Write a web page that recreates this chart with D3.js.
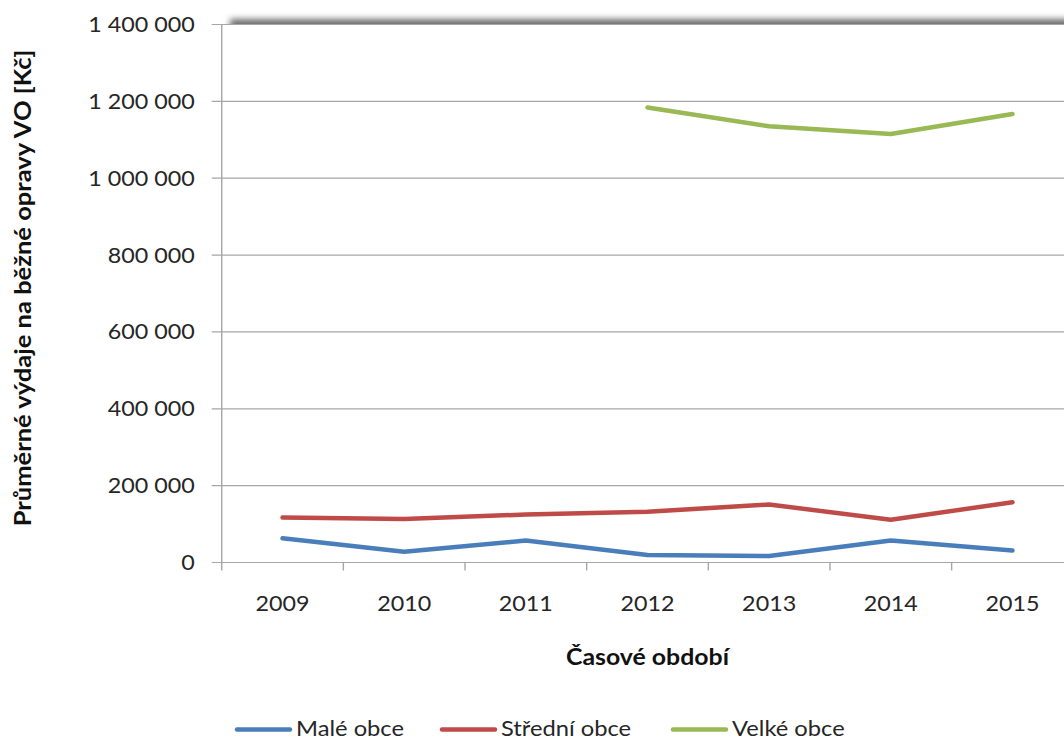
<!DOCTYPE html>
<html>
<head>
<meta charset="utf-8">
<script src="https://cdn.jsdelivr.net/npm/d3@7"></script>
<style>
  html, body { margin: 0; padding: 0; background: #fff; }
  svg { display: block; font-family: Lato, "Open Sans", sans-serif; }
</style>
</head>
<body>
<svg id="chart" width="1064" height="740"></svg>
<script>
// Průměrné výdaje na běžné opravy veřejného osvětlení podle velikosti obce
const years = ["2009", "2010", "2011", "2012", "2013", "2014", "2015"];
const maleObce    = [63000, 28000, 57000, 19500, 17000, 57000, 31000];
const stredniObce = [117000, 113000, 125000, 132000, 151000, 111000, 157000];
const velkeObce   = [null, null, null, 1184000, 1135000, 1115000, 1167000];
const seriesNames = ["Malé obce", "Střední obce", "Velké obce"];
const yTicks = [0, 200000, 400000, 600000, 800000, 1000000, 1200000, 1400000];

const colors = ["#4A7EBB", "#BE4B48", "#98B954"];
const series = [maleObce, stredniObce, velkeObce];

// horizontal widening applied to text
const WIDEN = 1.13;     // titles and legend
const WIDEN_NUM = 1.06; // numeric tick labels

const svg = d3.select("#chart");
const plot = { left: 221.7, right: 1073.3, top: 24.5, bottom: 562.5 };

const x = d3.scaleBand().domain(years).range([plot.left, plot.right]);
const y = d3.scaleLinear().domain([0, 1400000]).range([plot.bottom, plot.top]);

const czLocale = d3.formatLocale({ decimal: ",", thousands: "\u00a0", grouping: [3], currency: ["", " Kč"] });
const fmt = czLocale.format(",d");

// shadow along the top edge of the plot
const defs = svg.append("defs");
defs.append("filter").attr("id", "soft").attr("x", "-10%").attr("y", "-200%").attr("width", "120%").attr("height", "500%")
  .append("feGaussianBlur").attr("stdDeviation", 3);
defs.append("clipPath").attr("id", "aboveTop")
  .append("rect").attr("x", 0).attr("y", 0).attr("width", 1064).attr("height", plot.top);
svg.append("g").attr("clip-path", "url(#aboveTop)")
  .append("rect")
  .attr("x", 230).attr("y", 19).attr("width", 900).attr("height", 14)
  .attr("fill", "#6e6e6e").attr("filter", "url(#soft)");

// horizontal gridlines with short outer ticks
svg.append("g").selectAll("line").data(yTicks).join("line")
  .attr("x1", plot.left - 10).attr("x2", plot.right)
  .attr("y1", d => y(d)).attr("y2", d => y(d))
  .attr("stroke", "#a6a6a6").attr("stroke-width", 1.2);

// y axis labels
const yAxis = svg.append("g")
  .attr("transform", `translate(${plot.left},0)`)
  .call(d3.axisLeft(y).tickValues(yTicks).tickFormat(fmt).tickSize(0).tickPadding(27));
yAxis.select(".domain").remove();
yAxis.selectAll("text")
  .attr("x", -27 / WIDEN_NUM)
  .attr("transform", `scale(${WIDEN_NUM},1)`)
  .attr("font-size", 22).attr("fill", "#262626")
  .attr("font-family", "Lato, sans-serif");

// y axis line
svg.append("line")
  .attr("x1", plot.left).attr("x2", plot.left)
  .attr("y1", plot.top).attr("y2", plot.bottom + 8)
  .attr("stroke", "#a6a6a6").attr("stroke-width", 1.4);

// x axis category boundary ticks
svg.append("g").selectAll("line").data(years.slice(1)).join("line")
  .attr("x1", d => x(d)).attr("x2", d => x(d))
  .attr("y1", plot.bottom).attr("y2", plot.bottom + 8)
  .attr("stroke", "#a6a6a6").attr("stroke-width", 1.4);

// x axis labels
const xAxis = svg.append("g")
  .attr("transform", `translate(0,${plot.bottom})`)
  .call(d3.axisBottom(x).tickSize(0).tickPadding(33));
xAxis.select(".domain").remove();
xAxis.selectAll("text")
  .attr("transform", `scale(${WIDEN_NUM},1)`)
  .attr("font-size", 22).attr("fill", "#262626")
  .attr("font-family", "Lato, sans-serif");

// series lines
const line = d3.line()
  .defined(d => d.v !== null)
  .x(d => x(d.year) + x.bandwidth() / 2)
  .y(d => y(d.v));

series.forEach((vals, i) => {
  svg.append("path")
    .datum(years.map((yr, j) => ({ year: yr, v: vals[j] })))
    .attr("d", line)
    .attr("fill", "none")
    .attr("stroke", colors[i])
    .attr("stroke-width", 4.5)
    .attr("stroke-linejoin", "round")
    .attr("stroke-linecap", "round");
});

// axis titles
svg.append("text")
  .attr("transform", `translate(${(plot.left + plot.right) / 2},665) scale(${WIDEN},1)`)
  .attr("text-anchor", "middle")
  .attr("font-size", 22).attr("font-weight", "bold").attr("fill", "#111")
  .text("Časové období");

svg.append("text")
  .attr("transform", "translate(31,288) rotate(-90) scale(1.11,1)")
  .attr("text-anchor", "middle")
  .attr("font-size", 23).attr("font-weight", "bold").attr("fill", "#111")
  .text("Průměrné výdaje na běžné opravy VO [Kč]");

// legend
const legendX = [237, 442, 673];
const legend = svg.append("g").selectAll("g").data(seriesNames).join("g")
  .attr("transform", (d, i) => `translate(${legendX[i]},729.5)`);
legend.append("line")
  .attr("x1", 0).attr("x2", 53).attr("y1", 0).attr("y2", 0)
  .attr("stroke", (d, i) => colors[i]).attr("stroke-width", 4.5)
  .attr("stroke-linecap", "round");
legend.append("text")
  .attr("transform", `translate(59,6) scale(${WIDEN},1)`)
  .attr("font-size", 21).attr("fill", "#262626")
  .text(d => d);
</script>
</body>
</html>
